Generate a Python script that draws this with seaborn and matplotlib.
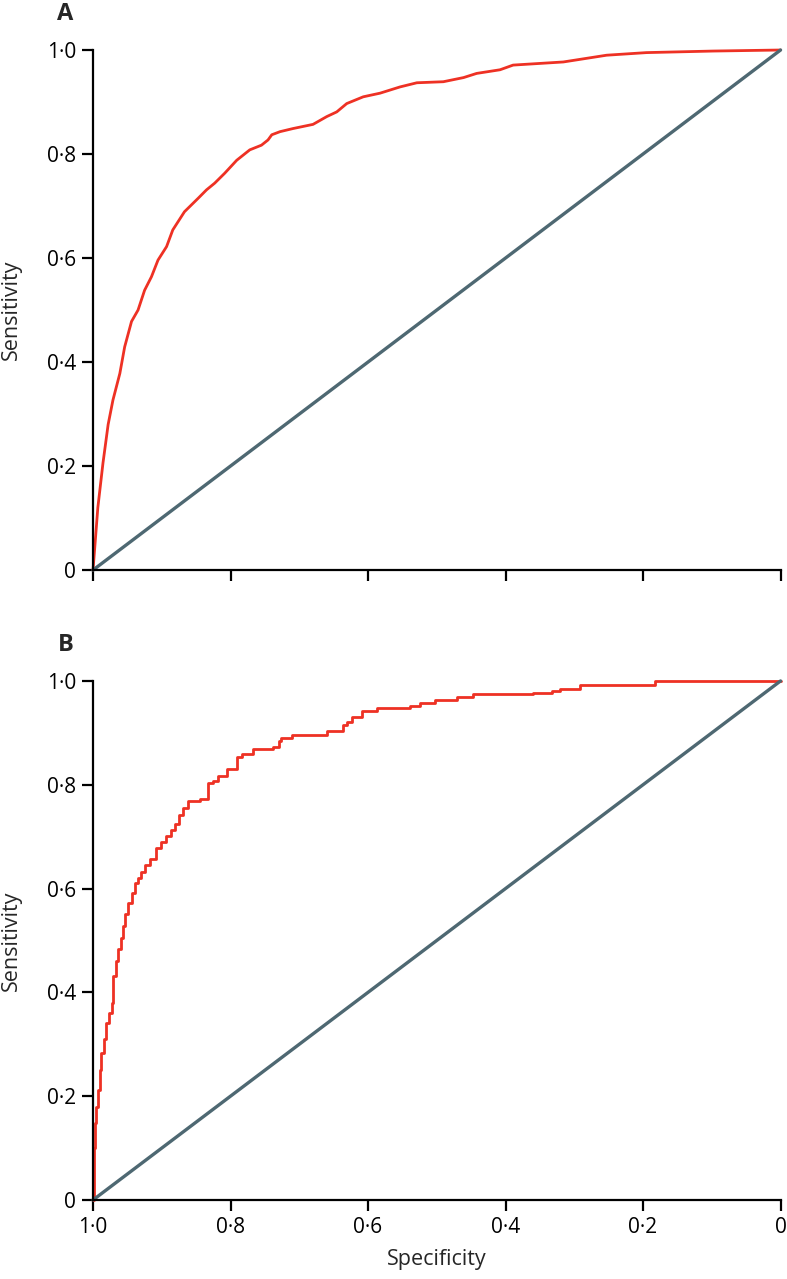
import seaborn as sns
from matplotlib import pyplot as plt
import pandas as pd

# ROC curve A: 1 - specificity, sensitivity
fpr_a = [0, 0.007, 0.0145, 0.022, 0.029, 0.039, 0.046, 0.056, 0.0655, 0.075, 0.085,
         0.0945, 0.107, 0.116, 0.133, 0.153, 0.165, 0.177, 0.1915, 0.209, 0.228,
         0.245, 0.2545, 0.260, 0.272, 0.291, 0.320, 0.340, 0.3545, 0.369, 0.393,
         0.4175, 0.4465, 0.471, 0.5095, 0.539, 0.558, 0.592, 0.611, 0.684, 0.747,
         0.805, 0.902, 1.0]
sens_a = [0, 0.12, 0.206, 0.28, 0.327, 0.378, 0.429, 0.478, 0.500, 0.538, 0.564,
          0.596, 0.622, 0.654, 0.689, 0.715, 0.731, 0.744, 0.763, 0.788, 0.808,
          0.817, 0.827, 0.837, 0.843, 0.849, 0.857, 0.872, 0.881, 0.897, 0.910,
          0.917, 0.929, 0.937, 0.939, 0.947, 0.955, 0.962, 0.971, 0.977, 0.990,
          0.995, 0.998, 1.0]

# ROC curve B (stepped)
fpr_b = [0, 0.001, 0.0025, 0.005, 0.007, 0.01, 0.012, 0.016, 0.019, 0.023, 0.027,
         0.029, 0.033, 0.036, 0.040, 0.0435, 0.047, 0.051, 0.056, 0.0605, 0.065,
         0.070, 0.076, 0.0825, 0.092, 0.099, 0.1065, 0.113, 0.119, 0.125, 0.131,
         0.138, 0.155, 0.167, 0.175, 0.182, 0.1945, 0.209, 0.216, 0.233, 0.262,
         0.270, 0.274, 0.289, 0.340, 0.364, 0.370, 0.376, 0.391, 0.4125, 0.461,
         0.4755, 0.4975, 0.529, 0.553, 0.640, 0.667, 0.679, 0.708, 0.8175, 1.0]
sens_b = [0, 0.10, 0.148, 0.18, 0.212, 0.25, 0.283, 0.31, 0.341, 0.36, 0.380,
          0.431, 0.46, 0.483, 0.505, 0.528, 0.55, 0.573, 0.592, 0.611, 0.62,
          0.631, 0.645, 0.656, 0.679, 0.69, 0.701, 0.712, 0.724, 0.742, 0.756,
          0.769, 0.772, 0.804, 0.808, 0.817, 0.831, 0.853, 0.859, 0.869, 0.873,
          0.885, 0.891, 0.896, 0.904, 0.915, 0.920, 0.930, 0.943, 0.947, 0.952,
          0.957, 0.964, 0.970, 0.975, 0.977, 0.980, 0.984, 0.993, 1.0, 1.0]

diag_spec = [1, 0]
diag_sens = [0, 1]
ticks = [0, 0.2, 0.4, 0.6, 0.8, 1.0]
tick_labels = ['0', '0·2', '0·4', '0·6', '0·8', '1·0']
panels = ['A', 'B']

RED = '#EE3124'
GREY = '#4E6872'

sns.set_style('ticks')
plt.rcParams['font.family'] = ['Open Sans', 'DejaVu Sans']

fig = plt.figure(figsize=(7.87, 12.79), dpi=100)
ax_a = fig.add_axes([0.1182, 0.5543, 0.8736, 0.4066])
ax_b = fig.add_axes([0.1182, 0.0618, 0.8736, 0.4058])

curves = [(fpr_a, sens_a, 'default'), (fpr_b, sens_b, 'steps-post')]
for ax, (fpr, sens, ds), name in zip([ax_a, ax_b], curves, panels):
    df = pd.DataFrame({'spec': [1 - f for f in fpr], 'sens': sens})
    sns.lineplot(data=df, x='spec', y='sens', ax=ax, color=RED, lw=2,
                 sort=False, estimator=None, drawstyle=ds, clip_on=False)
    sns.lineplot(x=diag_spec, y=diag_sens, ax=ax, color=GREY, lw=2.4,
                 sort=False, estimator=None, clip_on=False)
    ax.set_xlim(1.0, 0)
    ax.set_ylim(0, 1.0)
    ax.set_xticks(ticks)
    ax.set_yticks(ticks)
    ax.set_yticklabels(tick_labels, fontsize=15)
    ax.set_ylabel('Sensitivity', fontsize=15.5, labelpad=18)
    ax.set_xlabel('')
    for s in ['top', 'right']:
        ax.spines[s].set_visible(False)
    for s in ['left', 'bottom']:
        ax.spines[s].set_linewidth(1.6)
        ax.spines[s].set_color('black')
    ax.tick_params(length=8, width=1.6, pad=4, colors='black')
    ax.text(-0.04, 1.07, name, transform=ax.transAxes, fontsize=17,
            fontweight='bold', ha='center', va='center')

ax_a.set_xticklabels([])
ax_b.set_xticklabels(tick_labels, fontsize=15)
ax_b.set_xlabel('Specificity', fontsize=15.5, labelpad=8)

fig.savefig('out.png', dpi=100)
